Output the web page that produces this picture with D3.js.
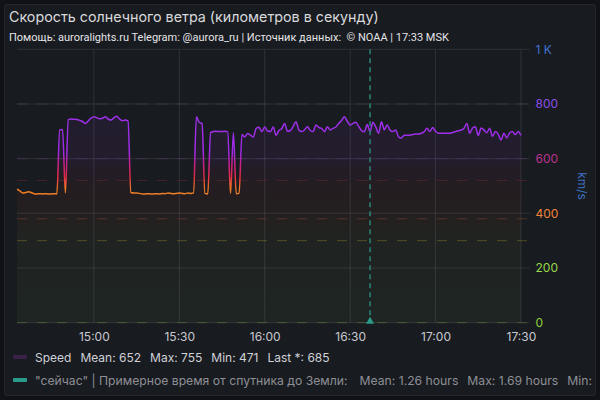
<!DOCTYPE html>
<html><head><meta charset="utf-8">
<script src="https://cdn.jsdelivr.net/npm/d3@7"></script>
<style>html,body{margin:0;padding:0;background:#111217;} svg{display:block;} text{white-space:pre;}</style>
</head><body><svg id="c" width="600" height="400"></svg>
<script>
// ---- data ----
const times = ["14:33","14:34","14:35","14:36","14:37","14:38","14:39","14:40","14:41","14:42","14:43","14:44","14:45","14:46","14:47","14:48","14:49","14:50","14:51","14:52","14:53","14:54","14:55","14:56","14:57","14:58","14:59",
"15:00","15:01","15:02","15:03","15:04","15:05","15:06","15:07","15:08","15:09","15:10","15:11","15:12","15:13","15:14","15:15","15:16","15:17","15:18","15:19","15:20","15:21","15:22","15:23","15:24","15:25","15:26","15:27","15:28","15:29",
"15:30","15:31","15:32","15:33","15:34","15:35","15:36","15:37","15:38","15:39","15:40","15:41","15:42","15:43","15:44","15:45","15:46","15:47","15:48","15:49","15:50","15:51","15:52","15:53","15:54","15:55","15:56","15:57","15:58","15:59",
"16:00","16:01","16:02","16:03","16:04","16:05","16:06","16:07","16:08","16:09","16:10","16:11","16:12","16:13","16:14","16:15","16:16","16:17","16:18","16:19","16:20","16:21","16:22","16:23","16:24","16:25","16:26","16:27","16:28","16:29",
"16:30","16:31","16:32","16:33","16:34","16:35","16:36","16:37","16:38","16:39","16:40","16:41","16:42","16:43","16:44","16:45","16:46","16:47","16:48","16:49","16:50","16:51","16:52","16:53","16:54","16:55","16:56","16:57","16:58","16:59",
"17:00","17:01","17:02","17:03","17:04","17:05","17:06","17:07","17:08","17:09","17:10","17:11","17:12","17:13","17:14","17:15","17:16","17:17","17:18","17:19","17:20","17:21","17:22","17:23","17:24","17:25","17:26","17:27","17:28","17:29","17:30"];
const speed = [489,482,474,476,479,476,472,471,472,471,472,471,471,472,471,705,707,475,742,745,744,743,740,736,729,738,748,
753,750,746,748,753,745,741,749,755,745,739,741,737,476,474,474,473,471,471,472,471,471,472,471,473,472,474,473,472,473,
474,473,472,474,473,475,753,733,728,473,471,695,699,700,699,699,700,698,473,695,472,473,688,680,692,686,679,711,715,699,
716,701,699,716,686,703,710,729,700,703,718,735,705,699,706,717,703,699,723,714,711,699,717,705,711,716,729,740,753,737,
723,729,733,718,703,698,725,699,733,716,693,735,706,723,705,699,705,680,676,686,686,686,688,690,690,693,699,711,699,714,
700,693,693,693,693,693,696,699,702,705,711,729,693,712,717,685,712,705,695,711,682,699,690,668,693,676,694,699,688,699,685];
const xTickLabels = ["15:00","15:30","16:00","16:30","17:00","17:30"];
const yTicks = [0,200,400,600,800,1000];
const yTickLabels = ["0","200","400","600","800","1 K"];
const yTickColors = ["#8fcf3a","#9bd84a","#f2843a","#b8338f","#8a4fe8","#3f74d0"];
const thresholdValues = [0,300,380,520,600,800];
const thresholdColors = ["#6f9a4a","#a59a35","#b4553a","#8a2f45","#6a3d86","#3f5f5a"];
const nowTime = "16:37";
const speedStats = ["Mean: 652","Max: 755","Min: 471","Last *: 685"];
const nowStats = ["Mean: 1.26 hours","Max: 1.69 hours","Min:"];
const titleText = "Скорость солнечного ветра (километров в секунду)";
const subtitleText = "Помощь: auroralights.ru Telegram: @aurora_ru | Источник данных:  © NOAA | 17:33 MSK";

// ---- chart ----
const svg = d3.select("#c");
const parse = d3.timeParse("%H:%M");
const data = times.map((t,i)=>({t:parse(t), v:speed[i]}));
const x = d3.scaleTime().domain([parse("14:33"), parse("17:33")]).range([17, 529.5]);
const y = d3.scaleLinear().domain([0,1000]).range([322.7, 49.3]);
const FONT = "Inter, 'Noto Sans', sans-serif";

svg.append("rect").attr("x",4.5).attr("y",4.5).attr("width",591).attr("height",391)
  .attr("rx",2).attr("fill","#181b1f").attr("stroke","#24262b");

svg.append("text").attr("x",9).attr("y",22).text(titleText)
  .attr("font-family",FONT).attr("font-size",14.3).attr("font-weight",400).attr("fill","#d8d9dc");
svg.append("text").attr("x",9).attr("y",41).text(subtitleText)
  .attr("font-family","Roboto, sans-serif").attr("font-size",11).attr("fill","#e4e4e8");

const defs = svg.append("defs");
const lg = defs.append("linearGradient").attr("id","lineGrad").attr("gradientUnits","userSpaceOnUse")
  .attr("x1",0).attr("x2",0).attr("y1",y(0)).attr("y2",y(1000));
[[0,"#73bf69"],[300,"#e0b030"],[420,"#f08a24"],[490,"#f07a24"],[535,"#e22a48"],[585,"#c2208e"],[620,"#a02ae6"],[1000,"#9a3cf5"]]
  .forEach(([v,c])=>lg.append("stop").attr("offset",v/1000).attr("stop-color",c));
const fg = defs.append("linearGradient").attr("id","fillGrad").attr("gradientUnits","userSpaceOnUse")
  .attr("x1",0).attr("x2",0).attr("y1",y(0)).attr("y2",y(1000));
[[0,"#7cc060",0.06],[290,"#8aa040",0.06],[340,"#b09a30",0.06],[400,"#d05a30",0.06],[510,"#c03040",0.07],[600,"#9a2ad0",0.08],[1000,"#8a3ae0",0.08]]
  .forEach(([v,c,o])=>fg.append("stop").attr("offset",v/1000).attr("stop-color",c).attr("stop-opacity",o));

// area fill
const curve = d3.curveMonotoneX;
svg.append("path").datum(data)
  .attr("d", d3.area().x(d=>x(d.t)).y0(y(0)).y1(d=>y(d.v)).curve(curve))
  .attr("fill","url(#fillGrad)");

// grid
const xTicks = xTickLabels.map(parse);
svg.append("g").selectAll("line").data(xTicks).join("line")
  .attr("x1",d=>x(d)).attr("x2",d=>x(d)).attr("y1",y(1000)).attr("y2",y(0))
  .attr("stroke","rgba(204,204,220,0.13)").attr("stroke-width",1);
svg.append("g").selectAll("line").data(yTicks).join("line")
  .attr("x1",17).attr("x2",529.5).attr("y1",d=>y(d)).attr("y2",d=>y(d))
  .attr("stroke","rgba(204,204,220,0.13)").attr("stroke-width",1);

// threshold dashed lines
svg.append("g").selectAll("line").data(thresholdValues).join("line")
  .attr("x1",17).attr("x2",529.5).attr("y1",d=>y(d)).attr("y2",d=>y(d))
  .attr("stroke",(d,i)=>thresholdColors[i]).attr("stroke-opacity",0.38)
  .attr("stroke-dasharray","10,10").attr("stroke-width",1);

// line
svg.append("path").datum(data)
  .attr("d", d3.line().x(d=>x(d.t)).y(d=>y(d.v)).curve(curve))
  .attr("fill","none").attr("stroke","url(#lineGrad)").attr("stroke-width",1.5);

// now marker
const nx = x(parse(nowTime));
svg.append("line").attr("x1",nx).attr("x2",nx).attr("y1",y(1000)).attr("y2",y(0))
  .attr("stroke","#2a8578").attr("stroke-width",1.5).attr("stroke-dasharray","5,4");
svg.append("path").attr("d",`M${nx-4},${y(0)+1}L${nx},${y(0)-6}L${nx+4},${y(0)+1}Z`).attr("fill","#2a9a8a");

// x axis labels
const xAxis = svg.append("g").attr("transform",`translate(0,${y(0)})`)
  .call(d3.axisBottom(x).tickValues(xTicks).tickFormat((d,i)=>xTickLabels[i]).tickSize(0).tickPadding(10));
xAxis.select(".domain").remove();
xAxis.selectAll("text").attr("font-family",FONT).attr("font-size",12).attr("fill","#c8c9d0");

// y axis labels (right)
const yAxis = svg.append("g").attr("transform",`translate(529.5,0)`)
  .call(d3.axisRight(y).tickValues(yTicks).tickFormat((d,i)=>yTickLabels[i]).tickSize(0).tickPadding(6));
yAxis.select(".domain").remove();
yAxis.selectAll("text").attr("font-family",FONT).attr("font-size",12).attr("fill",(d,i)=>yTickColors[i]);
svg.append("text").attr("transform",`translate(581,${(y(0)+y(1000))/2}) rotate(90)`)
  .attr("text-anchor","middle").attr("dominant-baseline","middle").text("km/s")
  .attr("font-family",FONT).attr("font-size",12).attr("fill","#3f6fc0");

// legend
svg.append("rect").attr("x",13).attr("y",355).attr("width",14).attr("height",4).attr("rx",1).attr("fill","#3a2148");
const l1 = svg.append("text").attr("x",35).attr("y",361.5).attr("font-family",FONT).attr("font-size",12).attr("fill","#d0d1d8");
l1.append("tspan").text("Speed");
speedStats.forEach(s=>l1.append("tspan").attr("dx",9).text(s));
svg.append("rect").attr("x",13).attr("y",378).attr("width",14).attr("height",4).attr("rx",1).attr("fill","#2a9a8a");
const l2 = svg.append("text").attr("x",35).attr("y",385).attr("font-family",FONT).attr("font-size",12.2).attr("fill","#8e8f96");
l2.append("tspan").text('"сейчас" | Примерное время от спутника до Земли:');
nowStats.forEach((s,i)=>l2.append("tspan").attr("dx",i===0?12:9).text(s));
</script></body></html>
